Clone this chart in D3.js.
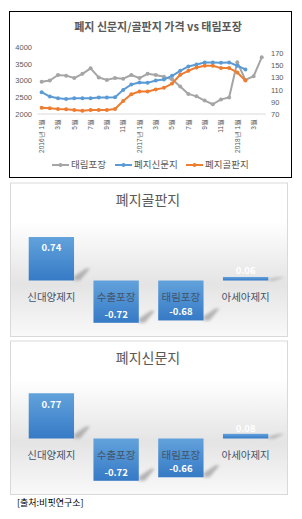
<!DOCTYPE html>
<html>
<head>
<meta charset="utf-8">
<script src="https://cdn.jsdelivr.net/npm/d3@7"></script>
<style>
  body { margin: 0; background: #fff; }
  svg { display: block; font-family: "Noto Sans CJK KR", "Noto Sans", sans-serif; }
</style>
</head>
<body>
<div id="chart"></div>
<script>
// 월별 카테고리 (2016.1 ~ 2018.4)
const months = ["2016-01","2016-02","2016-03","2016-04","2016-05","2016-06","2016-07","2016-08","2016-09","2016-10","2016-11","2016-12",
                "2017-01","2017-02","2017-03","2017-04","2017-05","2017-06","2017-07","2017-08","2017-09","2017-10","2017-11","2017-12",
                "2018-01","2018-02","2018-03","2018-04"];
const monthLabels = ["2016년 1월","2월","3월","4월","5월","6월","7월","8월","9월","10월","11월","12월",
                     "2017년 1월","2월","3월","4월","5월","6월","7월","8월","9월","10월","11월","12월",
                     "2018년 1월","2월","3월","4월"];
const taerim = [123,125,134,133,129,136,145,130,126,129,128,134,129,136,134,131,127,115,103,99,92,86,94,97,155,126,132,163];
const newsprint = [2650,2520,2470,2450,2470,2470,2470,2490,2490,2500,2720,2880,2940,2930,3000,3030,3140,3290,3420,3480,3540,3540,3530,3540,3440,3330];
const corrugated = [2190,2170,2150,2140,2120,2100,2120,2120,2120,2150,2390,2590,2670,2670,2730,2780,2910,3170,3290,3390,3440,3440,3370,3370,3240,3000];
const leftTicks = [2000,2500,3000,3500,4000];
const rightTicks = [70,90,110,130,150,170];

// 상관계수
const companies = ["신대양제지","수출포장","태림포장","아세아제지"];
const corrCorrugated = [0.74,-0.72,-0.68,0.06];
const corrNewsprint = [0.77,-0.72,-0.66,0.08];

const W = 302, H = 519;
const svg = d3.select("#chart").append("svg").attr("width", W).attr("height", H);
const defs = svg.append("defs");

// ---------- 라인 차트 ----------
const lc = svg.append("g");
lc.append("rect").attr("x", 9.5).attr("y", 11.5).attr("width", 282).attr("height", 166)
  .attr("fill", "#fff").attr("stroke", "#000").attr("stroke-width", 1);

lc.append("text").attr("x", 158).attr("y", 31).attr("text-anchor", "middle")
  .style("font-size", "11px").style("font-weight", "bold").attr("fill", "#595959")
  .text("폐지 신문지/골판지 가격 vs 태림포장");

const x = d3.scaleBand().domain(months).range([37.6, 265.8]);
const cx = d => x(d) + x.bandwidth() / 2;
const yL = d3.scaleLinear().domain([2000, 4000]).range([114, 47]);
const yR = d3.scaleLinear().domain([70, 180]).range([114, 47]);

lc.append("line").attr("x1", 37.6).attr("x2", 265.8).attr("y1", yL(2000)).attr("y2", yL(2000))
  .attr("stroke", "#d9d9d9").attr("stroke-width", 1);

lc.append("g").attr("transform", "translate(32,0)")
  .call(d3.axisLeft(yL).tickValues(leftTicks).tickSize(0).tickPadding(0).tickFormat(d3.format("d")))
  .call(g => g.select(".domain").remove())
  .selectAll("text").attr("fill", "#595959").style("font-size", "7.5px");

lc.append("g").attr("transform", "translate(271,0)")
  .call(d3.axisRight(yR).tickValues(rightTicks).tickSize(0).tickPadding(0))
  .call(g => g.select(".domain").remove())
  .selectAll("text").attr("fill", "#595959").style("font-size", "7.5px");

const labelled = months.filter((d, i) => i % 2 === 0);
lc.append("g").attr("transform", `translate(0,${yL(2000) + 3})`)
  .call(d3.axisBottom(x).tickValues(labelled).tickSize(0).tickPadding(0)
    .tickFormat(d => monthLabels[months.indexOf(d)]))
  .call(g => g.select(".domain").remove())
  .selectAll("text")
  .attr("transform", "rotate(-90)")
  .attr("x", -2).attr("y", 0).attr("dy", "0.35em")
  .style("text-anchor", "end")
  .attr("fill", "#595959").style("font-size", "6.5px");

const series = [
  { name: "태림포장", values: taerim, y: yR, color: "#a5a5a5" },
  { name: "폐지신문지", values: newsprint, y: yL, color: "#5b9bd5" },
  { name: "폐지골판지", values: corrugated, y: yL, color: "#ed7d31" }
];

series.forEach(s => {
  const pts = s.values.map((v, i) => [cx(months[i]), s.y(v)]);
  lc.append("path").attr("d", d3.line()(pts)).attr("fill", "none")
    .attr("stroke", s.color).attr("stroke-width", 2).attr("stroke-linejoin", "round");
  lc.append("g").selectAll("circle").data(pts).enter().append("circle")
    .attr("cx", d => d[0]).attr("cy", d => d[1]).attr("r", 2)
    .attr("fill", s.color);
});

// 범례
const legX = [52, 115, 186];
series.forEach((s, i) => {
  const g = lc.append("g").attr("transform", `translate(${legX[i]},165)`);
  g.append("line").attr("x1", 0).attr("x2", 17).attr("stroke", s.color).attr("stroke-width", 2);
  g.append("circle").attr("cx", 8.5).attr("r", 2).attr("fill", s.color);
  g.append("text").attr("x", 19).attr("dy", "0.35em").style("font-size", "9.5px")
    .attr("fill", "#595959").text(s.name);
});

// ---------- 막대 차트 ----------
const bg = defs.append("linearGradient").attr("id", "panelBg").attr("x1", 0).attr("y1", 0).attr("x2", 0).attr("y2", 1);
bg.append("stop").attr("offset", "0%").attr("stop-color", "#ffffff");
bg.append("stop").attr("offset", "25%").attr("stop-color", "#ffffff");
bg.append("stop").attr("offset", "66%").attr("stop-color", "#e4e4e4");
bg.append("stop").attr("offset", "100%").attr("stop-color", "#f9f9f9");

const barG = defs.append("linearGradient").attr("id", "barFill").attr("x1", 0).attr("y1", 0).attr("x2", 0).attr("y2", 1);
barG.append("stop").attr("offset", "0%").attr("stop-color", "#62a2db");
barG.append("stop").attr("offset", "100%").attr("stop-color", "#367ac6");

defs.append("filter").attr("id", "blur").attr("x", "-50%").attr("y", "-50%").attr("width", "200%").attr("height", "200%")
  .append("feGaussianBlur").attr("stdDeviation", 1.6);

function drawPanel(top, title, values) {
  const g = svg.append("g").attr("transform", `translate(0,${top})`);
  g.append("rect").attr("x", 10.5).attr("y", 0.5).attr("width", 277).attr("height", 153.5)
    .attr("fill", "url(#panelBg)").attr("stroke", "#d9d9d9");

  g.append("text").attr("x", 148).attr("y", 18).attr("dy", "0.35em").attr("text-anchor", "middle")
    .style("font-size", "14px").attr("fill", "#595959").text(title);

  const bx = d3.scaleBand().domain(companies).range([19, 278]).paddingInner(0.3).paddingOuter(0.15);
  const by = d3.scaleLinear().domain([-0.8, 0.8]).range([145, 51]);
  const data = companies.map((c, i) => ({ c, v: values[i] }));

  // 그림자
  g.append("g").selectAll("path").data(data).enter().append("path")
    .attr("d", d => {
      const r = bx(d.c) + bx.bandwidth();
      const b = Math.max(by(d.v), by(0));
      const h = Math.min(12, Math.abs(by(d.v) - by(0)));
      return `M${r},${b} L${r},${b - h * 0.35} L${r + 12},${b - h} L${r + 16},${b - h} L${r + 6},${b} Z`;
    })
    .attr("fill", "#9a9a9a").attr("opacity", 0.7).attr("filter", "url(#blur)");

  g.append("g").selectAll("rect").data(data).enter().append("rect")
    .attr("x", d => bx(d.c)).attr("width", bx.bandwidth())
    .attr("y", d => Math.min(by(d.v), by(0)))
    .attr("height", d => Math.abs(by(d.v) - by(0)))
    .attr("fill", "url(#barFill)");

  g.append("g").selectAll("text.cat").data(data).enter().append("text")
    .attr("class", "cat")
    .attr("x", d => bx(d.c) + bx.bandwidth() / 2).attr("y", by(0) + 17).attr("dy", "0.35em")
    .attr("text-anchor", "middle").style("font-size", "10.5px").attr("fill", "#44546a")
    .text(d => d.c);

  g.append("g").selectAll("text.val").data(data).enter().append("text")
    .attr("class", "val")
    .attr("x", d => bx(d.c) + bx.bandwidth() / 2)
    .attr("y", d => {
      const hgt = Math.abs(by(d.v) - by(0));
      if (hgt < 20) return by(0) - 10;
      return d.v > 0 ? by(d.v) + 11 : by(d.v) - 8.5;
    })
    .attr("dy", "0.35em").attr("text-anchor", "middle")
    .style("font-size", "9.5px").style("font-weight", "bold").attr("fill", "#fff")
    .text(d => d3.format(".2f")(d.v).replace("−", "-"));
}

drawPanel(182.5, "폐지골판지", corrCorrugated);
drawPanel(340.5, "폐지신문지", corrNewsprint);

svg.append("text").attr("x", 17).attr("y", 503).attr("dy", "0.35em")
  .style("font-size", "9px").attr("fill", "#000").text("[출처:비핏연구소]");
</script>
</body>
</html>
